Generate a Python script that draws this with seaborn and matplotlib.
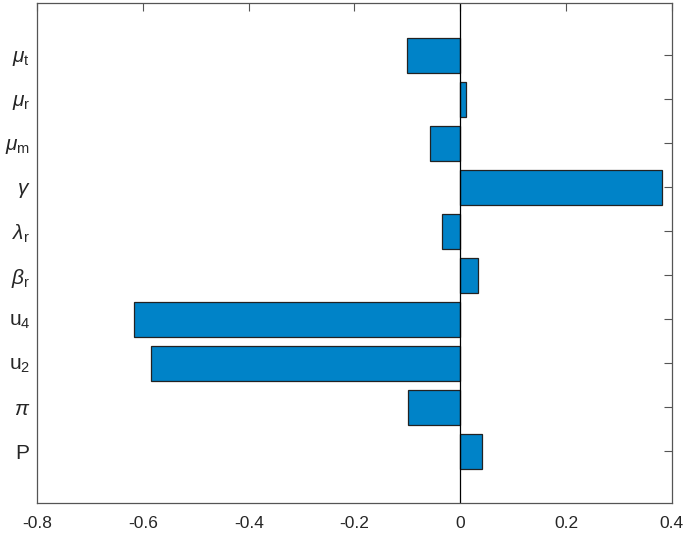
import matplotlib
matplotlib.use('Agg')
import matplotlib.pyplot as plt
import seaborn as sns
import pandas as pd

# parameter labels, top to bottom
params = [r'$\mu_\mathrm{t}$', r'$\mu_\mathrm{r}$', r'$\mu_\mathrm{m}$', r'$\gamma$',
          r'$\lambda_\mathrm{r}$', r'$\beta_\mathrm{r}$', r'$\mathrm{u}_4$', r'$\mathrm{u}_2$',
          r'$\pi$', r'$\mathrm{P}$']
# sensitivity index values
values = [-0.100, 0.010, -0.057, 0.381, -0.035, 0.034, -0.616, -0.585, -0.098, 0.041]
xticks = [-0.8, -0.6, -0.4, -0.2, 0, 0.2, 0.4]

df = pd.DataFrame({'param': params, 'value': values})

sns.set_style('white')
plt.rcParams['font.family'] = ['Liberation Sans', 'DejaVu Sans']
plt.rcParams['mathtext.fontset'] = 'custom'
plt.rcParams['mathtext.rm'] = 'Liberation Sans'
plt.rcParams['mathtext.it'] = 'Liberation Sans:italic'

fig = plt.figure(figsize=(6.87, 5.34), dpi=100)
ax = fig.add_axes([0.054, 0.058, 0.924, 0.936])

sns.barplot(data=df, x='value', y='param', orient='h', color='#0083C8',
            saturation=1, width=0.8, edgecolor='#222222', linewidth=0.9, ax=ax)
ax.axvline(0, color='black', linewidth=0.9)

ax.set_xlim(-0.8, 0.4)
ax.set_ylim(10.18, -1.18)
ax.set_xticks(xticks)
ax.set_xticklabels(['-0.8', '-0.6', '-0.4', '-0.2', '0', '0.2', '0.4'])
ax.set_xlabel('')
ax.set_ylabel('')
ax.tick_params(axis='both', direction='in', length=6, width=0.8, color='#555555',
               top=True, right=True)
ax.tick_params(axis='x', labelsize=12.5, pad=9)
ax.tick_params(axis='y', labelsize=15, pad=5)
for s in ax.spines.values():
    s.set_visible(True)
    s.set_color('#555555')
    s.set_linewidth(0.9)

fig.savefig('out.png', dpi=100)
